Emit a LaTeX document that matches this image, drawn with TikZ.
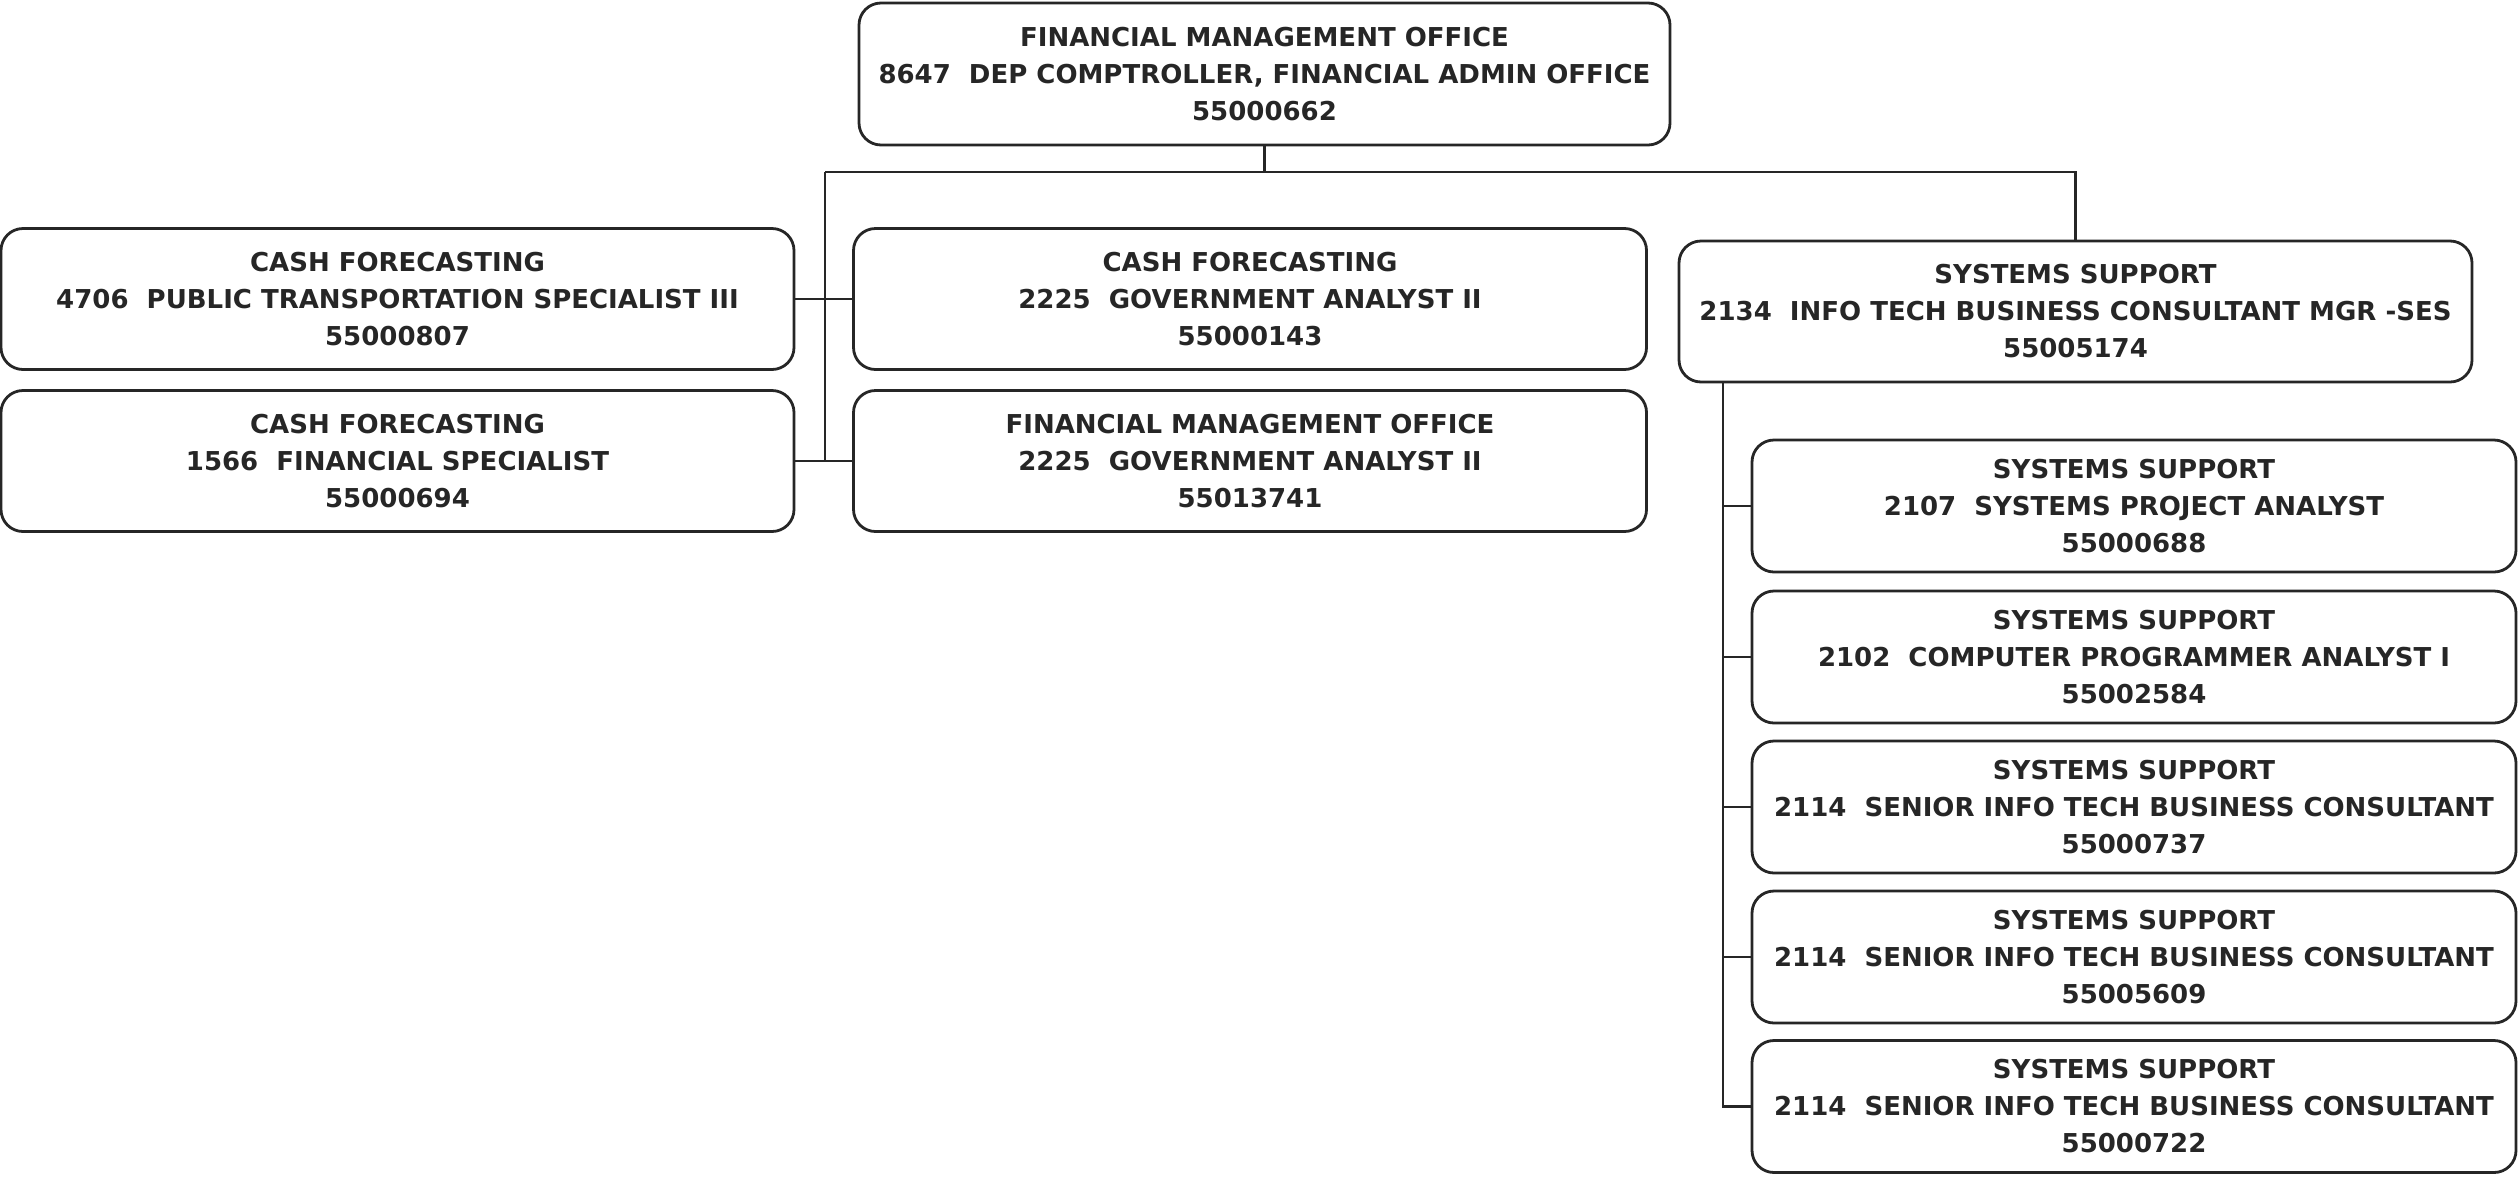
\documentclass[tikz,border=0pt]{standalone}
\usepackage{fontspec}
\newfontfamily\boxfont{DejaVu Sans}
\begin{document}
\begin{tikzpicture}[x=1pt,y=-1pt,
  unit/.style={draw=black!85, line width=2.8pt, rounded corners=22pt,
    align=center, inner sep=0pt, text=black!85,
    font=\boxfont\bfseries\fontsize{26}{37}\selectfont},
  wide/.style={unit, minimum width=793pt, minimum height=141pt},
  sub/.style={unit, minimum width=764pt, minimum height=132pt},
  link/.style={draw=black!85, line width=2.6pt}]
\useasboundingbox (0,0) rectangle (2518,1176);

% head of the office
\node[unit, minimum width=811pt, minimum height=142pt] (top) at (1264.5,74)
  {FINANCIAL MANAGEMENT OFFICE\\8647\ \ DEP COMPTROLLER, FINANCIAL ADMIN OFFICE\\55000662};

% cash forecasting and office staff
\node[wide] (cf1) at (397.5,299)
  {CASH FORECASTING\\4706\ \ PUBLIC TRANSPORTATION SPECIALIST III\\55000807};
\node[wide] (cf2) at (397.5,461)
  {CASH FORECASTING\\1566\ \ FINANCIAL SPECIALIST\\55000694};
\node[wide] (cf3) at (1250,299)
  {CASH FORECASTING\\2225\ \ GOVERNMENT ANALYST II\\55000143};
\node[wide] (fmo) at (1250,461)
  {FINANCIAL MANAGEMENT OFFICE\\2225\ \ GOVERNMENT ANALYST II\\55013741};

% systems support
\node[wide] (ssm) at (2075.5,311.5)
  {SYSTEMS SUPPORT\\2134\ \ INFO TECH BUSINESS CONSULTANT MGR -SES\\55005174};
\node[sub] (ss1) at (2134,506)
  {SYSTEMS SUPPORT\\2107\ \ SYSTEMS PROJECT ANALYST\\55000688};
\node[sub] (ss2) at (2134,657)
  {SYSTEMS SUPPORT\\2102\ \ COMPUTER PROGRAMMER ANALYST I\\55002584};
\node[sub] (ss3) at (2134,807)
  {SYSTEMS SUPPORT\\2114\ \ SENIOR INFO TECH BUSINESS CONSULTANT\\55000737};
\node[sub] (ss4) at (2134,957)
  {SYSTEMS SUPPORT\\2114\ \ SENIOR INFO TECH BUSINESS CONSULTANT\\55005609};
\node[sub] (ss5) at (2134,1106.5)
  {SYSTEMS SUPPORT\\2114\ \ SENIOR INFO TECH BUSINESS CONSULTANT\\55000722};

% connectors
\coordinate (busL) at (825,172);
\coordinate (busR) at (ssm.north |- busL);
\draw[link] (top.south) -- (top.south |- busL);
\draw[link] (busL) -- (busR) -- (ssm.north);
\draw[link] (busL) -- (busL |- cf2.east);
\draw[link] (cf1.east) -- (cf3.west);
\draw[link] (cf2.east) -- (fmo.west);

\coordinate (sx) at (1723,382);
\draw[link] (sx) -- (sx |- ss5.west) -- (ss5.west);
\foreach \i in {1,...,4} \draw[link] (sx |- ss\i.west) -- (ss\i.west);
\end{tikzpicture}
\end{document}
